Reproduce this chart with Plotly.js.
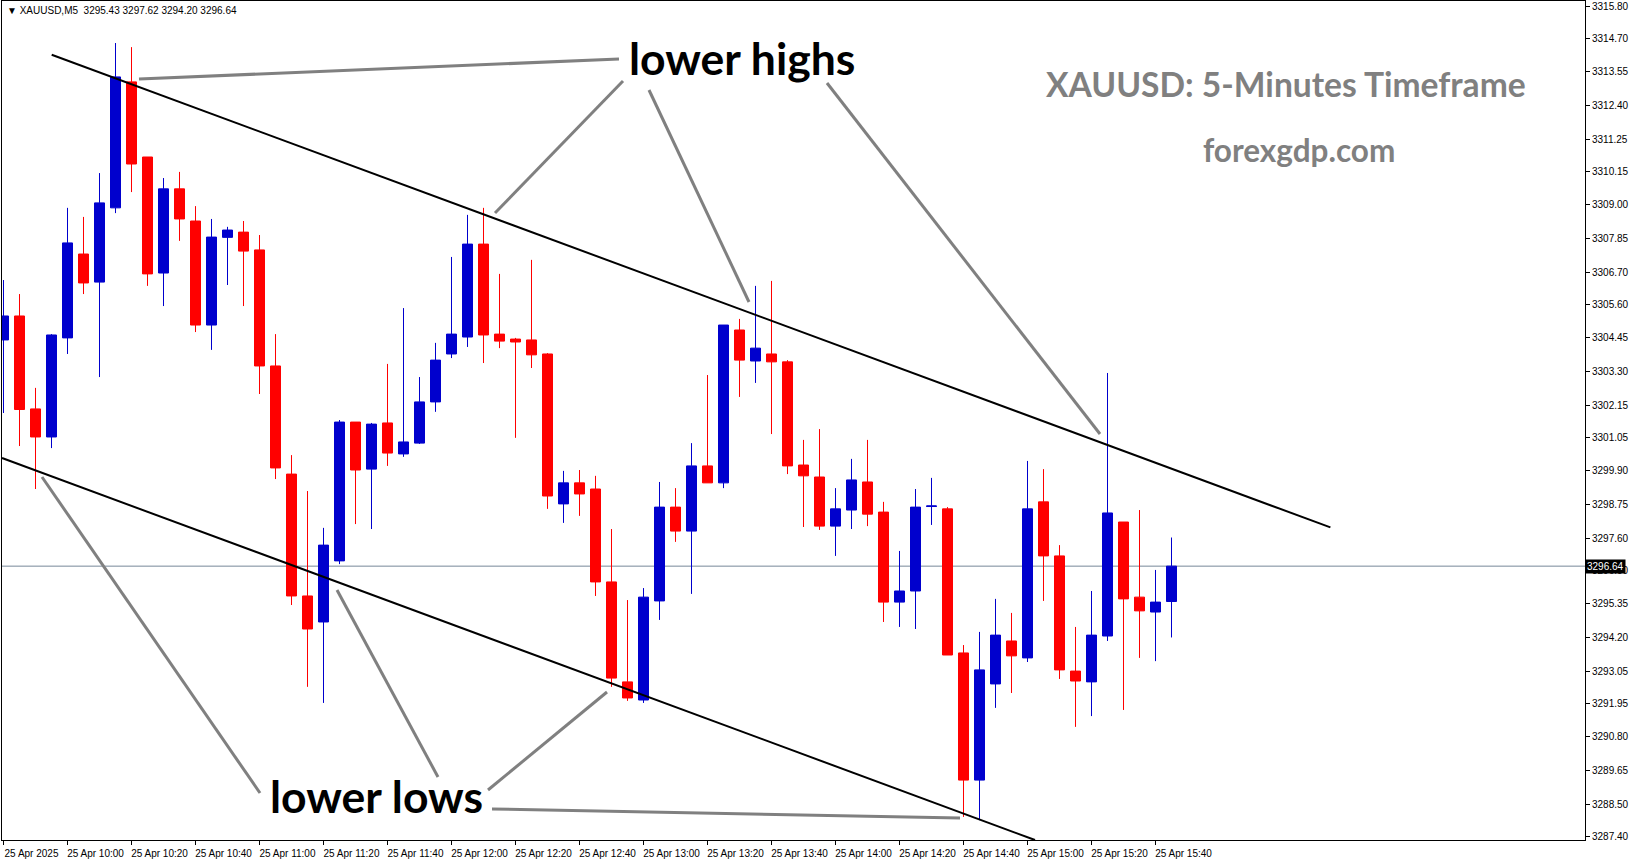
<!DOCTYPE html>
<html>
<head>
<meta charset="utf-8">
<script src="https://cdn.plot.ly/plotly-3.0.1.min.js"></script>
<style>
  html, body { margin: 0; padding: 0; background: #ffffff; }
  #chart { width: 1631px; height: 861px; }
</style>
</head>
<body>
<div id="chart"></div>
<script>
// ---------------- data (XAUUSD M5, 25 Apr 2025) ----------------
const symbol = 'XAUUSD,M5';
const startTime = '09:40';
const open  = [3304.38,3305.20,3302.02,3301.06,3304.45,3307.32,3306.36,3308.90,3313.21,3310.64,
               3306.67,3309.55,3308.45,3304.89,3307.89,3308.07,3307.46,3303.49,3299.79,3295.62,
               3294.73,3296.82,3301.57,3299.96,3301.54,3300.48,3300.85,3302.26,3303.90,3304.48,
               3307.66,3304.58,3304.41,3304.38,3303.90,3298.77,3299.49,3299.28,3296.10,3292.68,
               3292.06,3295.45,3298.66,3297.84,3300.07,3299.49,3304.72,3303.66,3303.90,3303.63,
               3300.10,3299.69,3298.01,3298.56,3299.52,3298.49,3295.41,3295.79,3298.68,3298.60,
               3293.67,3289.32,3292.61,3294.08,3293.50,3298.84,3296.99,3293.05,3292.68,3294.25,
               3298.15,3295.58,3295.07,3295.43];
const high  = [3306.43,3305.95,3302.74,3304.58,3308.90,3308.59,3310.09,3314.54,3314.40,3310.64,
               3309.92,3310.13,3308.96,3308.52,3308.25,3308.45,3307.97,3304.58,3300.44,3299.21,
               3297.95,3301.64,3301.57,3301.54,3303.56,3305.47,3303.11,3304.28,3307.22,3308.66,
               3308.90,3306.64,3304.45,3307.12,3303.93,3299.90,3299.93,3299.73,3297.91,3295.48,
               3295.89,3299.52,3299.31,3300.85,3303.18,3304.89,3305.10,3306.23,3306.40,3303.69,
               3300.96,3301.33,3299.31,3300.31,3300.96,3298.84,3297.16,3299.28,3299.66,3298.66,
               3293.94,3294.39,3295.52,3295.04,3300.24,3299.96,3297.36,3294.56,3295.79,3303.25,
               3298.15,3298.56,3296.51,3297.62];
const low   = [3301.88,3300.75,3299.28,3300.68,3303.90,3305.95,3303.11,3308.72,3309.44,3306.23,
               3305.54,3307.77,3304.65,3304.04,3306.26,3305.54,3302.53,3299.62,3295.31,3292.51,
               3291.96,3296.71,3298.08,3297.91,3300.07,3300.38,3300.82,3301.92,3303.76,3304.14,
               3303.59,3304.10,3301.03,3303.42,3298.60,3298.12,3298.36,3295.62,3292.51,3292.03,
               3291.96,3294.80,3297.47,3295.69,3299.49,3299.31,3302.43,3302.91,3301.16,3299.79,
               3297.98,3297.88,3296.99,3297.91,3298.01,3294.73,3294.56,3294.49,3298.05,3293.60,
               3288.06,3287.95,3291.79,3292.30,3293.36,3295.45,3292.78,3291.14,3291.51,3294.08,
               3291.72,3293.50,3293.39,3294.20];
const close = [3305.20,3302.00,3301.06,3304.55,3307.70,3306.33,3309.07,3313.38,3310.40,3306.64,
               3309.55,3308.52,3304.89,3307.90,3308.14,3307.42,3303.49,3300.00,3295.62,3294.49,
               3297.36,3301.57,3299.93,3301.50,3300.51,3300.89,3302.26,3303.69,3304.58,3307.66,
               3304.55,3304.34,3304.31,3303.87,3299.04,3299.49,3299.11,3296.10,3292.81,3292.13,
               3295.58,3298.66,3297.84,3300.07,3299.49,3304.89,3303.69,3304.10,3303.63,3300.07,
               3299.73,3298.01,3298.60,3299.59,3298.42,3295.41,3295.79,3298.66,3298.70,3293.60,
               3289.32,3293.09,3294.28,3293.57,3298.60,3296.99,3293.09,3292.71,3294.28,3298.46,
               3295.52,3295.11,3295.41,3296.64];

const xTickLabels = ['25 Apr 2025','25 Apr 10:00','25 Apr 10:20','25 Apr 10:40','25 Apr 11:00',
                     '25 Apr 11:20','25 Apr 11:40','25 Apr 12:00','25 Apr 12:20','25 Apr 12:40',
                     '25 Apr 13:00','25 Apr 13:20','25 Apr 13:40','25 Apr 14:00','25 Apr 14:20',
                     '25 Apr 14:40','25 Apr 15:00','25 Apr 15:20','25 Apr 15:40'];
const yTickLabels = ['3315.80','3314.70','3313.55','3312.40','3311.25','3310.15','3309.00','3307.85',
                     '3306.70','3305.60','3304.45','3303.30','3302.15','3301.05','3299.90','3298.75',
                     '3297.60','3296.50','3295.35','3294.20','3293.05','3291.95','3290.80','3289.65',
                     '3288.50','3287.40'];

// ---------------- build ----------------
const times = [];
{
  let [h, m] = startTime.split(':').map(Number);
  for (let i = 0; i < open.length; i++) {
    times.push(String(h).padStart(2, '0') + ':' + String(m).padStart(2, '0'));
    m += 5; if (m >= 60) { m -= 60; h += 1; }
  }
}
const tickTimes = times.filter((t, i) => i % 4 === 0).slice(0, xTickLabels.length);

const last = open.length - 1;
const lastClose = close[last];
const fmt = v => v.toFixed(2);

// plot area in page pixels (MT4 frame)
const L = 2, R = 1585, T = 1, B = 840;
const PX = x => (x - L) / (R - L);
const PY = y => (B - y) / (B - T);

const candle = {
  type: 'candlestick',
  x: times, open: open, high: high, low: low, close: close,
  increasing: { line: { color: '#0000CD', width: 1 }, fillcolor: '#0000CD' },
  decreasing: { line: { color: '#FF0000', width: 1 }, fillcolor: '#FF0000' },
  whiskerwidth: 0,
  hoverinfo: 'skip',
  showlegend: false
};

const seg = (x0, y0, x1, y1, color, width) => ({
  type: 'line', xref: 'paper', yref: 'paper',
  x0: PX(x0), y0: PY(y0), x1: PX(x1), y1: PY(y1),
  line: { color: color, width: width }
});

const shapes = [
  // current price line
  { type: 'line', xref: 'paper', yref: 'y', x0: 0, x1: 1, y0: lastClose, y1: lastClose,
    line: { color: '#778899', width: 1 }, layer: 'below' },
  // channel trend lines
  seg(51.7, 54.7, 1330.4, 527.4, '#000000', 2),
  seg(2, 458, 1035, 840, '#000000', 2),
  // pointer lines (lower highs)
  seg(139, 79, 619, 59, '#808080', 3),
  seg(495, 213, 623, 81, '#808080', 3),
  seg(649, 90, 749, 302, '#808080', 3),
  seg(827, 83, 1100, 434, '#808080', 3),
  // pointer lines (lower lows)
  seg(42, 477, 260, 793, '#808080', 3),
  seg(337, 590, 438, 777, '#808080', 3),
  seg(488, 790, 607, 692, '#808080', 3),
  seg(492, 809, 960, 818, '#808080', 3)
];

const smallFont = { family: 'Tahoma, "Liberation Sans", Arial, sans-serif', size: 10, color: '#000000' };
const bigFamily = 'Lato, "Open Sans", sans-serif';

const annotations = [
  { xref: 'paper', yref: 'paper', x: PX(5), y: PY(11), xanchor: 'left', yanchor: 'middle',
    showarrow: false, font: smallFont,
    text: '\u25BC ' + symbol + '\u00a0\u00a0' + [open[last], high[last], low[last], close[last]].map(fmt).join(' ') },
  { xref: 'paper', yref: 'paper', x: PX(741.5), y: PY(58), xanchor: 'center', yanchor: 'middle',
    showarrow: false, text: 'lower highs',
    font: { family: bigFamily, size: 44.5, weight: 700, color: '#000000' } },
  { xref: 'paper', yref: 'paper', x: PX(376.7), y: PY(795), xanchor: 'center', yanchor: 'middle',
    showarrow: false, text: 'lower lows',
    font: { family: bigFamily, size: 44.5, weight: 700, color: '#000000' } },
  { xref: 'paper', yref: 'paper', x: PX(1285.7), y: PY(84), xanchor: 'center', yanchor: 'middle',
    showarrow: false, text: 'XAUUSD: 5-Minutes Timeframe',
    font: { family: bigFamily, size: 33.6, weight: 700, color: '#808080' } },
  { xref: 'paper', yref: 'paper', x: PX(1299), y: PY(150), xanchor: 'center', yanchor: 'middle',
    showarrow: false, text: 'forexgdp.com',
    font: { family: bigFamily, size: 31.5, weight: 700, color: '#808080' } },
  // current price tag on the price scale
  { xref: 'paper', yref: 'y', x: 1, y: lastClose, xanchor: 'left', yanchor: 'middle',
    showarrow: false, text: fmt(lastClose), bgcolor: '#000000', borderpad: 1,
    font: { family: smallFont.family, size: 10, color: '#ffffff' } }
];

const layout = {
  width: 1631, height: 861,
  margin: { l: L, r: 1631 - R, t: T, b: 861 - B, pad: 0 },
  paper_bgcolor: '#ffffff', plot_bgcolor: '#ffffff',
  showlegend: false,
  boxgap: 0.375, boxgroupgap: 0,
  hovermode: false,
  xaxis: {
    type: 'category',
    range: [(L - 3.5) / 16, (R - 3.5) / 16],
    rangeslider: { visible: false },
    showgrid: false, zeroline: false,
    showline: true, mirror: true, linecolor: '#000000', linewidth: 1,
    ticks: 'outside', ticklen: 4, tickcolor: '#000000', tickwidth: 1,
    tickvals: tickTimes, ticktext: xTickLabels,
    tickfont: smallFont, tickangle: 0,
    ticklabelshift: 28
  },
  yaxis: {
    side: 'right',
    range: [3316.012 - 0.034217 * B, 3316.012 - 0.034217 * T],
    showgrid: false, zeroline: false,
    showline: true, mirror: true, linecolor: '#000000', linewidth: 1,
    ticks: 'outside', ticklen: 4, tickcolor: '#000000', tickwidth: 1,
    tickvals: yTickLabels.map(Number), ticktext: yTickLabels,
    tickfont: smallFont
  },
  shapes: shapes,
  annotations: annotations
};

Plotly.newPlot('chart', [candle], layout, { displayModeBar: false, staticPlot: true });
</script>
</body>
</html>
